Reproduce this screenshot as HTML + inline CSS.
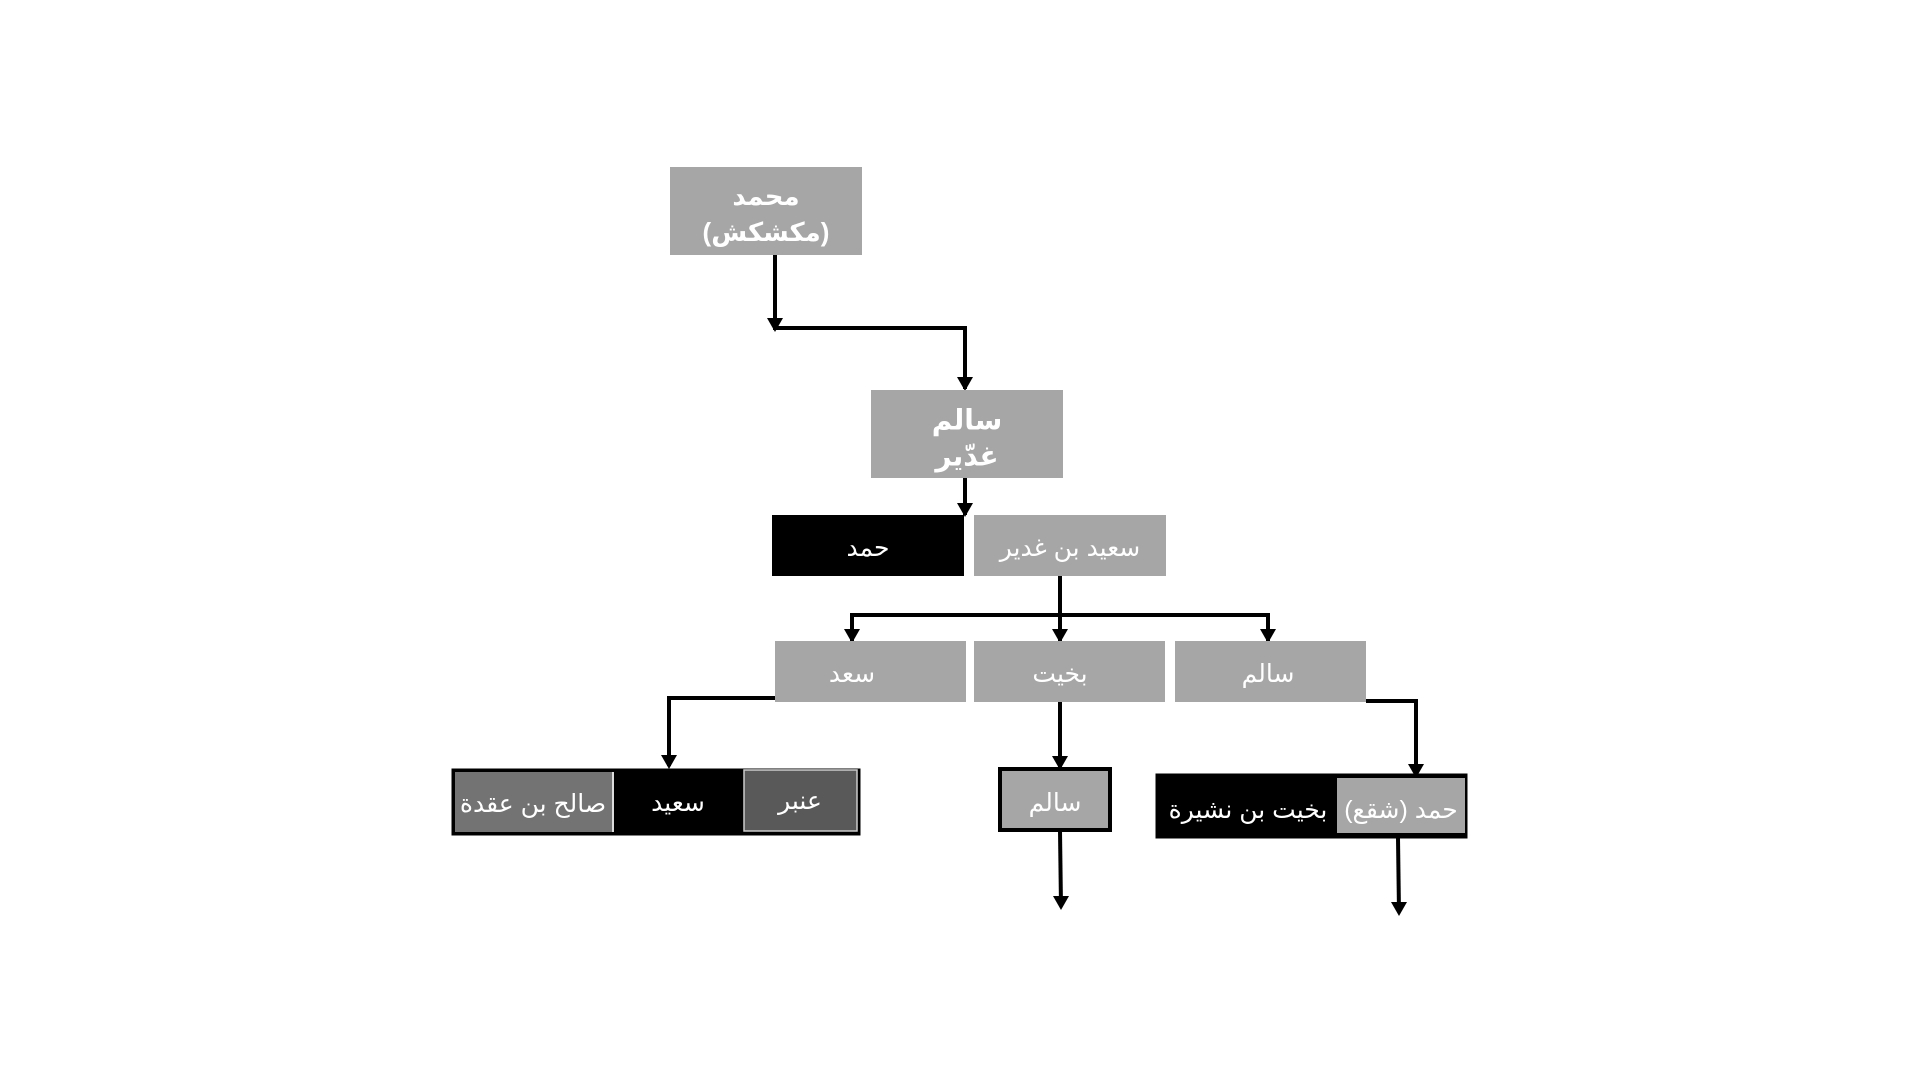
<!DOCTYPE html>
<html><head><meta charset="utf-8"><style>
html,body{margin:0;padding:0;background:#fff;}
svg{display:block}
text{font-family:"Liberation Sans","Noto Sans CJK SC","DejaVu Sans",sans-serif;fill:#fff;text-anchor:middle;dominant-baseline:central;}
</style></head><body>
<svg width="1920" height="1080" viewBox="0 0 1920 1080" xmlns="http://www.w3.org/2000/svg">
<defs>
<marker id="a" markerWidth="4" markerHeight="4" refX="2" refY="3" orient="auto" markerUnits="strokeWidth" viewBox="0 0 4 4">
<path d="M0,0 L4,0 L2,3 Z" fill="#000" transform="translate(0,0)"/>
</marker>
</defs>
<g fill="none" stroke="#000" stroke-width="4">
<path d="M775 255 V327"/>
<path d="M773 328 H965 V389" />
<path d="M965 478 V515"/>
<path d="M1060 576 V613"/>
<path d="M852 641 V615 H1268 V641"/>
<path d="M1060 613 V641"/>
<path d="M775 698 H669 V766"/>
<path d="M1060 702 V767"/>
<path d="M1366 701 H1416 V776"/>
<path d="M1060 831 L1061 906"/>
<path d="M1398 838 L1399 912"/>
</g>
<g fill="#000">
<path d="M767 318 L783 318 L775 332 Z"/>
<path d="M957 377 L973 377 L965 391 Z"/>
<path d="M957 503 L973 503 L965 517 Z"/>
<path d="M844 629 L860 629 L852 643 Z"/>
<path d="M1052 629 L1068 629 L1060 643 Z"/>
<path d="M1260 629 L1276 629 L1268 643 Z"/>
<path d="M661 755 L677 755 L669 769 Z"/>
<path d="M1052 756 L1068 756 L1060 770 Z"/>
<path d="M1408 764 L1424 764 L1416 778 Z"/>
<path d="M1053 896 L1069 896 L1061 910 Z"/>
<path d="M1391 902 L1407 902 L1399 916 Z"/>
</g>
<rect x="670" y="167" width="192" height="88" fill="#a6a6a6"/>
<text x="766" y="196" font-size="26" font-weight="bold">محمد</text>
<text x="766" y="232" font-size="26" font-weight="bold">(مكشكش)</text>
<rect x="871" y="390" width="192" height="88" fill="#a6a6a6"/>
<text x="967" y="420" font-size="28" font-weight="bold">سالم</text>
<text x="967" y="456" font-size="28" font-weight="bold">غدّير</text>
<rect x="772" y="515" width="192" height="61" fill="#000"/>
<text x="868" y="548" font-size="25">حمد</text>
<rect x="974" y="515" width="192" height="61" fill="#a6a6a6"/>
<text x="1070" y="548" font-size="25">سعيد بن غدير</text>
<rect x="775" y="641" width="191" height="61" fill="#a6a6a6"/>
<text x="852" y="674" font-size="25">سعد</text>
<rect x="974" y="641" width="191" height="61" fill="#a6a6a6"/>
<text x="1060" y="674" font-size="25">بخيت</text>
<rect x="1175" y="641" width="191" height="61" fill="#a6a6a6"/>
<text x="1268" y="674" font-size="25">سالم</text>
<!-- left group -->
<rect x="453" y="770" width="406" height="64" fill="#000" stroke="#000" stroke-width="3"/>
<rect x="455" y="772" width="157" height="60" fill="#737373"/>
<rect x="612" y="772" width="2" height="60" fill="#ddd"/>
<rect x="744" y="770" width="113" height="61" fill="#595959" stroke="#ccc" stroke-width="1.5"/>
<text x="533" y="804" font-size="25">صالح بن عقدة</text>
<text x="678" y="803" font-size="25">سعيد</text>
<text x="800" y="801" font-size="25">عنبر</text>
<!-- middle -->
<rect x="1000" y="769" width="110" height="61" fill="#a6a6a6" stroke="#000" stroke-width="4"/>
<text x="1055" y="803" font-size="25">سالم</text>
<!-- right group -->
<rect x="1157" y="775" width="309" height="62" fill="#000" stroke="#000" stroke-width="3"/>
<rect x="1337" y="778" width="128" height="55" fill="#a6a6a6"/>
<text x="1401" y="810" font-size="25">حمد (شقع)</text>
<text x="1248" y="810" font-size="25">بخيت بن نشيرة</text>
</svg>
</body></html>
